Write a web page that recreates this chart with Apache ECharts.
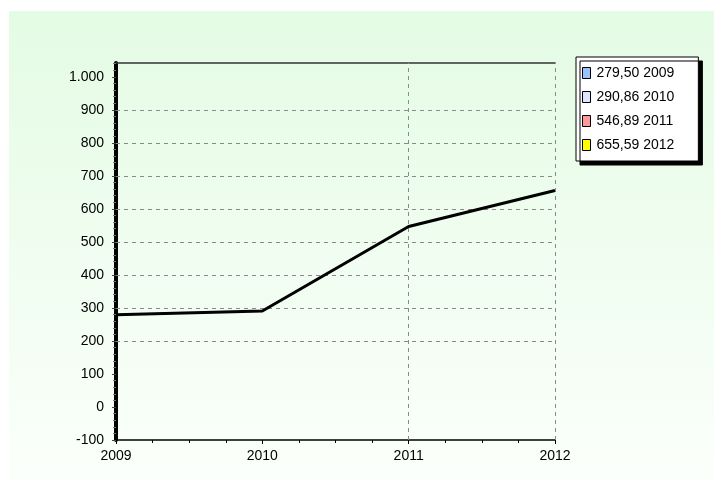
<!doctype html>
<html>
    <head>
        <meta charset="utf-8">
        <style>
            html, body { margin: 0; padding: 0; background: #fff; }
            #main { width: 714px; height: 480px; }
        </style>
    </head>
    <body>
        <div id="main"></div>
        <script src="https://cdn.jsdelivr.net/npm/echarts@6/dist/echarts.min.js"></script>
        <script>
            var years = [2009, 2010, 2011, 2012];
            var values = [279.50, 290.86, 546.89, 655.59];
            var legendColors = ['#99c2ff', '#dde6ff', '#ff9999', '#ffff00'];
            var yTicks = [-100, 0, 100, 200, 300, 400, 500, 600, 700, 800, 900, 1000];
            var yGridLines = [200, 300, 400, 500, 600, 700, 800, 900];
            var xGridLines = [2011, 2012];

            var font = '"Liberation Sans Narrow", "Liberation Sans", Arial, sans-serif';

            function fmtNum(v) {
                return v.toFixed(2).replace('.', ',');
            }
            function fmtTick(v) {
                if (v >= 1000) {
                    return Math.floor(v / 1000) + '.' + ('00' + (v % 1000)).slice(-3);
                }
                return String(v);
            }

            var lineData = years.map(function (y, i) { return [y, values[i]]; });
            var legendNames = years.map(function (y, i) { return fmtNum(values[i]) + ' ' + y; });

            var gridMarks = yGridLines.map(function (v) { return { yAxis: v }; })
                .concat(xGridLines.map(function (v) { return { xAxis: v }; }));

            var series = [{
                type: 'line',
                name: 'main',
                data: lineData,
                symbol: 'none',
                z: 5,
                lineStyle: { color: '#000', width: 3 },
                markLine: {
                    silent: true,
                    symbol: 'none',
                    z: 1,
                    label: { show: false },
                    lineStyle: { color: '#8a8a8a', type: [4, 4], width: 1 },
                    data: gridMarks
                }
            }];
            legendNames.forEach(function (n, i) {
                series.push({
                    type: 'bar',
                    name: n,
                    data: [],
                    itemStyle: { color: legendColors[i] }
                });
            });

            var chart = echarts.init(document.getElementById('main'));
            chart.setOption({
                animation: false,
                graphic: [{
                    type: 'rect',
                    left: 9,
                    top: 11,
                    z: -10,
                    silent: true,
                    shape: { width: 705, height: 469 },
                    style: {
                        fill: new echarts.graphic.LinearGradient(0, 0, 0, 1, [
                            { offset: 0, color: '#e4fbe4' },
                            { offset: 1, color: '#fbfffb' }
                        ])
                    }
                }],
                grid: { left: 116, right: 159, top: 63, bottom: 40 },
                legend: {
                    data: legendNames,
                    orient: 'vertical',
                    left: 576,
                    top: 57,
                    icon: 'rect',
                    itemWidth: 8,
                    itemHeight: 11,
                    itemGap: 10,
                    padding: [9, 24, 9, 6],
                    backgroundColor: '#fff',
                    borderColor: '#000',
                    borderWidth: 1,
                    shadowColor: '#000',
                    shadowOffsetX: 4,
                    shadowOffsetY: 4,
                    shadowBlur: 0,
                    selectedMode: false,
                    itemStyle: { borderColor: '#000', borderWidth: 1 },
                    textStyle: { color: '#000', fontSize: 14, fontFamily: font, padding: [0, 0, 0, 1] }
                },
                xAxis: [{
                    type: 'value',
                    min: 2009,
                    max: 2012,
                    interval: 1,
                    axisLine: { onZero: false, lineStyle: { color: '#000', width: 1.5 } },
                    axisTick: { length: 4, lineStyle: { color: '#000' } },
                    minorTick: { show: true, splitNumber: 4, length: 3, lineStyle: { color: '#000' } },
                    splitLine: { show: false },
                    axisLabel: {
                        color: '#000', fontSize: 14, fontFamily: font, margin: 9,
                        formatter: function (v) { return String(v); }
                    }
                }, {
                    type: 'value',
                    position: 'top',
                    min: 2009,
                    max: 2012,
                    axisLine: { show: true, onZero: false, lineStyle: { color: '#333', width: 1.5 } },
                    axisTick: { show: false },
                    axisLabel: { show: false },
                    splitLine: { show: false }
                }],
                yAxis: {
                    type: 'value',
                    min: -100,
                    max: 1042,
                    interval: 100,
                    axisLine: { show: true, onZero: false, lineStyle: { color: '#000', width: 4 } },
                    axisTick: { show: true, length: 4, customValues: yTicks, lineStyle: { color: '#444' } },
                    minorTick: { show: true, splitNumber: 5, length: 3, lineStyle: { color: '#777' } },
                    splitLine: { show: false },
                    axisLabel: {
                        color: '#000', fontSize: 14, fontFamily: font, margin: 12,
                        customValues: yTicks,
                        formatter: fmtTick
                    }
                },
                series: series
            });
        </script>
    </body>
</html>
